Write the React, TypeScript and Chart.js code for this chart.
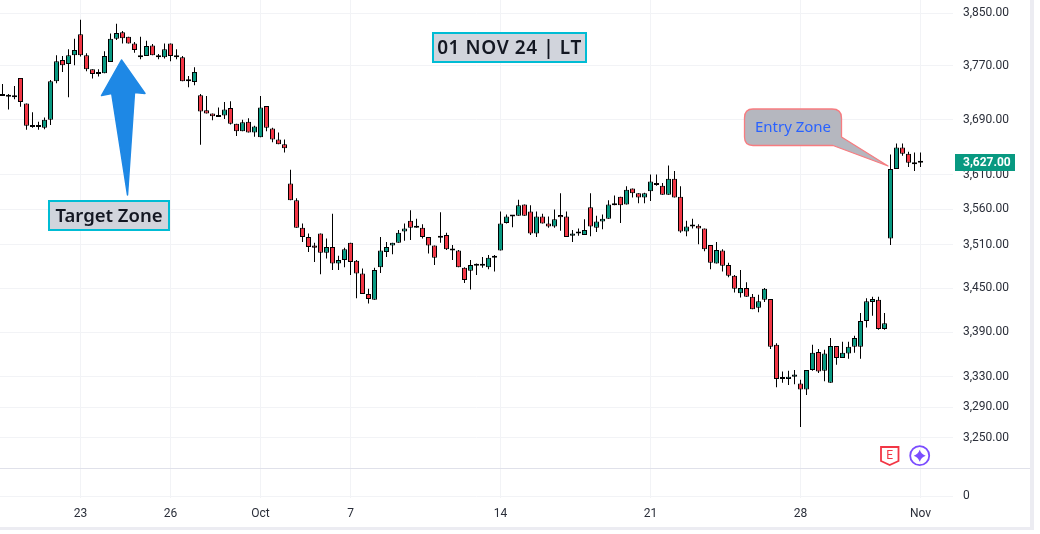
import React, { useEffect, useRef } from "react";
import { Chart, registerables } from "chart.js";

Chart.register(...registerables);

const opens = [
  3726, 3725, 3724, 3752, 3714, 3679, 3679, 3678, 3690, 3747,
  3779, 3773, 3786, 3818, 3786, 3765, 3759, 3759, 3776, 3811,
  3821, 3814, 3804, 3784, 3785, 3801, 3786, 3783, 3804, 3784,
  3783, 3747, 3746, 3726, 3704, 3699, 3695, 3696, 3707, 3684,
  3673, 3687, 3671, 3664, 3710, 3677, 3661, 3654, 3597, 3573,
  3534, 3521, 3509, 3526, 3499, 3507, 3484, 3489, 3513, 3488,
  3470, 3442, 3434, 3479, 3500, 3509, 3513, 3529, 3544, 3534,
  3534, 3521, 3509, 3520, 3524, 3503, 3502, 3478, 3474, 3481,
  3481, 3479, 3492, 3502, 3541, 3550, 3551, 3567, 3557, 3526,
  3550, 3540, 3536, 3552, 3550, 3523, 3526, 3524, 3563, 3534,
  3543, 3547, 3569, 3578, 3567, 3590, 3583, 3577, 3586, 3598,
  3594, 3581, 3604, 3578, 3529, 3536, 3537, 3533, 3510, 3484,
  3502, 3482, 3467, 3443, 3450, 3438, 3423, 3434, 3435, 3373,
  3327, 3327, 3330, 3321, 3313, 3339, 3363, 3338, 3322, 3371,
  3355, 3361, 3370, 3370, 3405, 3431, 3434, 3394, 3519, 3618,
  3649, 3640, 3626, 3627,
];
const highs = [
  3743, 3728, 3740, 3752, 3714, 3701, 3687, 3693, 3749, 3786,
  3785, 3795, 3811, 3840, 3789, 3765, 3765, 3792, 3819, 3834,
  3823, 3814, 3806, 3814, 3808, 3803, 3788, 3804, 3804, 3795,
  3785, 3755, 3768, 3728, 3725, 3699, 3708, 3716, 3717, 3684,
  3690, 3692, 3681, 3725, 3710, 3678, 3671, 3661, 3617, 3576,
  3540, 3526, 3513, 3526, 3519, 3554, 3495, 3506, 3513, 3489,
  3477, 3449, 3478, 3521, 3514, 3513, 3531, 3540, 3559, 3547,
  3539, 3521, 3509, 3556, 3527, 3510, 3503, 3479, 3489, 3484,
  3493, 3496, 3496, 3557, 3553, 3551, 3574, 3567, 3566, 3557,
  3554, 3550, 3560, 3583, 3557, 3531, 3533, 3546, 3583, 3551,
  3553, 3573, 3580, 3578, 3593, 3590, 3583, 3584, 3610, 3610,
  3598, 3623, 3615, 3593, 3544, 3547, 3539, 3533, 3510, 3514,
  3504, 3485, 3468, 3475, 3458, 3442, 3441, 3450, 3435, 3375,
  3337, 3338, 3339, 3326, 3339, 3373, 3367, 3366, 3382, 3371,
  3377, 3377, 3385, 3416, 3436, 3438, 3438, 3416, 3639, 3655,
  3655, 3643, 3642, 3642,
];
const lows = [
  3725, 3705, 3720, 3709, 3675, 3678, 3675, 3676, 3682, 3744,
  3761, 3723, 3771, 3784, 3762, 3751, 3754, 3759, 3776, 3809,
  3804, 3804, 3790, 3780, 3785, 3786, 3780, 3781, 3777, 3780,
  3747, 3738, 3741, 3653, 3699, 3689, 3694, 3691, 3683, 3666,
  3673, 3671, 3665, 3664, 3673, 3657, 3654, 3642, 3573, 3534,
  3514, 3500, 3486, 3469, 3491, 3475, 3475, 3479, 3468, 3436,
  3442, 3429, 3434, 3471, 3493, 3497, 3513, 3516, 3517, 3534,
  3519, 3498, 3482, 3513, 3503, 3489, 3479, 3457, 3448, 3468,
  3478, 3476, 3473, 3502, 3540, 3535, 3551, 3551, 3524, 3521,
  3540, 3534, 3534, 3530, 3521, 3514, 3523, 3524, 3522, 3528,
  3532, 3547, 3566, 3541, 3567, 3577, 3569, 3569, 3572, 3594,
  3581, 3581, 3577, 3527, 3522, 3533, 3511, 3501, 3476, 3484,
  3473, 3465, 3444, 3437, 3438, 3421, 3417, 3431, 3367, 3316,
  3322, 3319, 3320, 3264, 3306, 3338, 3335, 3324, 3322, 3346,
  3355, 3354, 3362, 3354, 3396, 3412, 3393, 3393, 3510, 3618,
  3637, 3621, 3615, 3621,
];
const closes = [
  3725, 3724, 3723, 3716, 3681, 3679, 3679, 3690, 3747, 3777,
  3771, 3786, 3794, 3786, 3765, 3758, 3758, 3785, 3811, 3820,
  3812, 3804, 3794, 3783, 3800, 3786, 3783, 3795, 3785, 3783,
  3747, 3747, 3761, 3702, 3699, 3695, 3694, 3705, 3684, 3673,
  3686, 3671, 3680, 3708, 3678, 3661, 3654, 3648, 3573, 3534,
  3521, 3507, 3506, 3499, 3507, 3484, 3489, 3504, 3486, 3470,
  3442, 3435, 3475, 3502, 3507, 3513, 3527, 3533, 3534, 3537,
  3521, 3509, 3492, 3523, 3504, 3502, 3479, 3461, 3482, 3481,
  3481, 3492, 3492, 3540, 3550, 3550, 3566, 3551, 3526, 3550,
  3540, 3536, 3546, 3549, 3521, 3526, 3526, 3531, 3536, 3543,
  3547, 3567, 3566, 3566, 3588, 3583, 3577, 3583, 3600, 3595,
  3581, 3604, 3577, 3529, 3536, 3536, 3533, 3504, 3485, 3503,
  3481, 3467, 3449, 3450, 3438, 3421, 3432, 3449, 3370, 3327,
  3327, 3330, 3333, 3313, 3339, 3362, 3337, 3361, 3371, 3355,
  3362, 3370, 3382, 3405, 3432, 3435, 3394, 3402, 3618, 3649,
  3640, 3627, 3625, 3627,
];

const priceTicks = [3850, 3770, 3690, 3610, 3560, 3510, 3450, 3390, 3330, 3290, 3250];
const dateTickIndexes = [13, 28, 43, 58, 83, 108, 133, 153];
const dateTickLabels = ["23", "26", "Oct", "7", "14", "21", "28", "Nov"];
const dateTitle = "01 NOV 24 | LT";
const targetTitle = "Target Zone";
const entryTitle = "Entry Zone";

const UP = "#089981";
const DOWN = "#F23645";
const GRID = "#F2F3F6";
const FRAME = "#ECECF2";
const TEXT = "#2A2E39";
const FONT = "Roboto";
const BADGE_FONT = '"Noto Sans"';

const labelBox = (c: any, text: string, x: number, y: number, w: number, h: number, size: number, spacing: number) => {
  c.fillStyle = "#D1D4DC";
  c.fillRect(x, y, w, h);
  c.strokeStyle = "#00BCD4";
  c.lineWidth = 2;
  c.strokeRect(x, y, w, h);
  c.fillStyle = "#131722";
  c.font = `600 ${size}px ${BADGE_FONT}`;
  c.letterSpacing = `${spacing}px`;
  c.textAlign = "center";
  c.textBaseline = "middle";
  c.fillText(text, x + w / 2, y + h / 2 + 1);
  c.letterSpacing = "0px";
};

const framePlugin = {
  id: "frame",
  beforeDatasetsDraw(chart: any) {
    const c: CanvasRenderingContext2D = chart.ctx;
    c.save();
    c.fillStyle = "#E0E1EA";
    c.fillRect(0, 468, 1030, 1);
    c.fillStyle = FRAME;
    c.fillRect(1030, 0, 4, 530);
    c.fillRect(0, 527, 1034, 3);
    c.restore();
  },
  afterDraw(chart: any) {
    const c: CanvasRenderingContext2D = chart.ctx;
    c.save();
    labelBox(c, dateTitle, 433, 33, 153, 29, 19, 0.6);
    labelBox(c, targetTitle, 49, 201, 120, 29, 18.5, 0);

    // blue arrow
    c.fillStyle = "#1E88E5";
    c.strokeStyle = "#1E88E5";
    c.lineWidth = 1.5;
    c.lineJoin = "round";
    c.beginPath();
    c.moveTo(121.5, 60);
    c.lineTo(145, 93.5);
    c.lineTo(134.5, 92.5);
    c.lineTo(127.5, 195);
    c.lineTo(111.7, 93.5);
    c.lineTo(101.5, 95.5);
    c.closePath();
    c.fill();
    c.stroke();

    // entry callout
    c.beginPath();
    c.moveTo(753, 109);
    c.lineTo(832, 109);
    c.quadraticCurveTo(841.5, 109, 841.5, 118);
    c.lineTo(841.5, 137);
    c.lineTo(888, 166);
    c.lineTo(833, 145.5);
    c.lineTo(753, 145.5);
    c.quadraticCurveTo(744.5, 145.5, 744.5, 137);
    c.lineTo(744.5, 118);
    c.quadraticCurveTo(744.5, 109, 753, 109);
    c.closePath();
    c.fillStyle = "#B5B7BF";
    c.fill();
    c.strokeStyle = "#F77C80";
    c.lineWidth = 1.3;
    c.stroke();
    c.fillStyle = "#2962FF";
    c.font = `15px "Noto Sans"`;
    c.textAlign = "center";
    c.textBaseline = "middle";
    c.fillText(entryTitle, 793, 128);

    // last price tag
    const last = closes[closes.length - 1];
    const py = chart.scales.y.getPixelForValue(last);
    c.fillStyle = UP;
    c.fillRect(955, 154, 60, 17);
    c.fillStyle = "#FFFFFF";
    c.font = `bold 12px ${FONT}`;
    c.textAlign = "left";
    c.fillText(last.toLocaleString("en-US", { minimumFractionDigits: 2 }), 963, py);

    // earnings badge
    c.strokeStyle = DOWN;
    c.lineWidth = 1.8;
    c.lineJoin = "miter";
    c.beginPath();
    c.moveTo(881, 447);
    c.lineTo(898.5, 447);
    c.lineTo(898.5, 461);
    c.lineTo(889.7, 465);
    c.lineTo(881, 461);
    c.closePath();
    c.stroke();
    c.fillStyle = DOWN;
    c.font = `12px ${FONT}`;
    c.textAlign = "center";
    c.fillText("E", 889.7, 455.5);

    // sparkle badge
    const sx = 919.7, sy = 455.7;
    c.strokeStyle = "#7B4DFF";
    c.lineWidth = 1.8;
    c.beginPath();
    c.arc(sx, sy, 9.5, 0, Math.PI * 2);
    c.stroke();
    c.fillStyle = "#7B4DFF";
    c.beginPath();
    c.moveTo(sx, sy - 6);
    c.quadraticCurveTo(sx + 1.5, sy - 1.5, sx + 6, sy);
    c.quadraticCurveTo(sx + 1.5, sy + 1.5, sx, sy + 6);
    c.quadraticCurveTo(sx - 1.5, sy + 1.5, sx - 6, sy);
    c.quadraticCurveTo(sx - 1.5, sy - 1.5, sx, sy - 6);
    c.fill();
    c.restore();
  },
};

const noPad = (s: any) => {
  s.paddingTop = 0;
  s.paddingBottom = 0;
  s.paddingLeft = 0;
  s.paddingRight = 0;
};

const Y_MAX = 3850 * Math.exp(13.3 / 2505);
const Y_MIN = 3850 * Math.exp(-(468 - 13.3) / 2505);

export default function App() {
  const ref = useRef<HTMLCanvasElement>(null);
  useEffect(() => {
    const idx = opens.map((_, i) => i);
    const chart = new Chart(ref.current!, {
      type: "bar",
      data: {
        datasets: [
          {
            label: "body",
            data: idx.map((i) => ({ x: i, y: [opens[i], closes[i]] })),
            backgroundColor: idx.map((i) => (closes[i] >= opens[i] ? UP : DOWN)),
            borderColor: "#000000",
            borderWidth: 1,
            borderSkipped: false,
            barThickness: 5,
            minBarLength: 2,
            inflateAmount: 0,
            grouped: false,
            order: 1,
            yAxisID: "y",
          },
          {
            label: "wick",
            data: idx.map((i) => ({ x: i, y: [lows[i], highs[i]] })),
            backgroundColor: "#000000",
            borderWidth: 0,
            barThickness: 1,
            inflateAmount: 0,
            grouped: false,
            order: 2,
            yAxisID: "y",
          },
        ] as any,
      },
      options: {
        responsive: false,
        animation: false,
        layout: { padding: 0 },
        plugins: { legend: { display: false }, tooltip: { enabled: false } },
        scales: {
          x: {
            type: "linear",
            position: "bottom",
            offset: false,
            min: -2.5 / 6,
            max: (953 - 2.5) / 6,
            grid: { color: GRID, drawTicks: false, lineWidth: 1, offset: false },
            border: { display: false },
            afterBuildTicks: (s: any) => {
              s.ticks = dateTickIndexes.map((value) => ({ value }));
            },
            afterFit: (s: any) => {
              s.height = 36;
              noPad(s);
            },
            ticks: {
              autoSkip: false,
              maxRotation: 0,
              padding: 9,
              color: TEXT,
              font: { family: FONT, size: 12 },
              callback: (v: any) => dateTickLabels[dateTickIndexes.indexOf(v)],
            },
          },
          y: {
            type: "logarithmic",
            position: "right",
            stack: "right",
            stackWeight: 468,
            min: Y_MIN,
            max: Y_MAX,
            grid: { color: GRID, drawTicks: false, lineWidth: 1 },
            border: { display: false },
            afterBuildTicks: (s: any) => {
              s.ticks = priceTicks.map((value) => ({ value }));
            },
            afterFit: (s: any) => {
              s.width = 87;
              noPad(s);
            },
            ticks: {
              autoSkip: false,
              padding: 10,
              color: TEXT,
              font: { family: FONT, size: 12 },
              callback: (v: any) => Number(v).toLocaleString("en-US", { minimumFractionDigits: 2 }),
            },
          } as any,
          volume: {
            type: "linear",
            position: "right",
            stack: "right",
            stackWeight: 30,
            min: -1,
            max: 14,
            grid: { color: GRID, drawTicks: false, lineWidth: 1 },
            border: { display: false },
            afterBuildTicks: (s: any) => {
              s.ticks = [{ value: 0 }];
            },
            afterFit: (s: any) => {
              s.width = 87;
              noPad(s);
            },
            ticks: {
              autoSkip: false,
              padding: 10,
              color: TEXT,
              font: { family: FONT, size: 12 },
              callback: () => "0",
            },
          } as any,
        },
      },
      plugins: [framePlugin],
    } as any);
    return () => chart.destroy();
  }, []);
  return (
    <div style={{ position: "absolute", left: 0, top: 0, width: 1040, height: 534, background: "#fff" }}>
      <canvas ref={ref} width={1040} height={534} style={{ display: "block" }} />
    </div>
  );
}
